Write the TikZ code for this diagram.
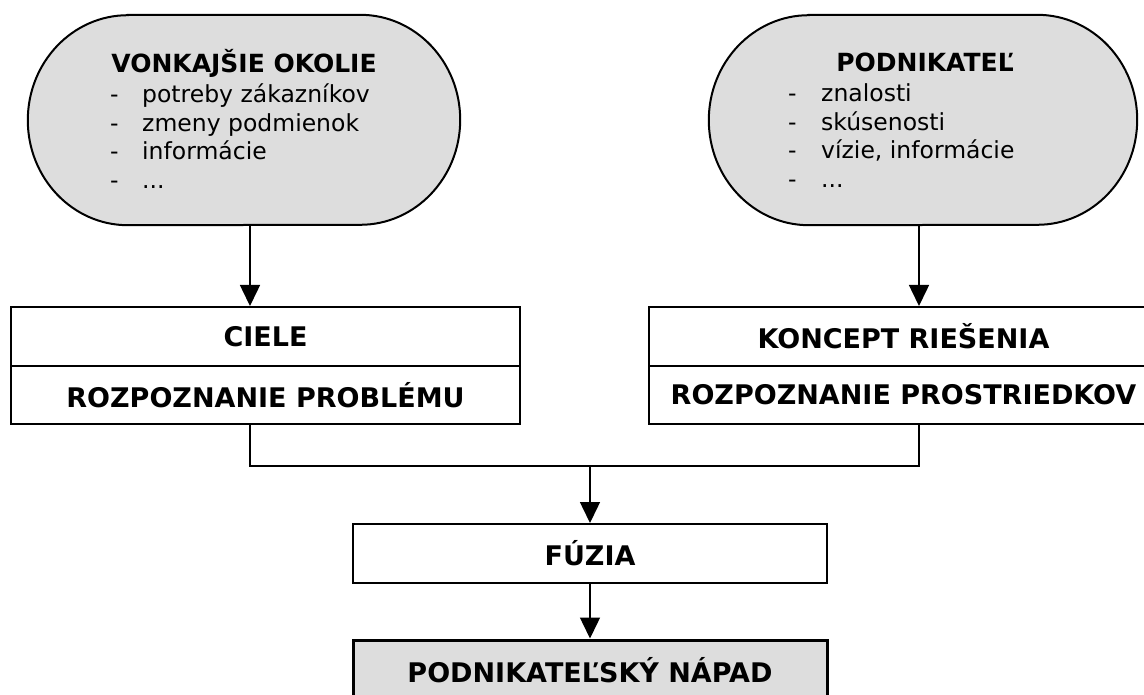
\documentclass[tikz,border=0pt]{standalone}
\usepackage{fontspec}
\setmainfont{DejaVu Sans}
\usetikzlibrary{arrows.meta,backgrounds}
\definecolor{shade}{RGB}{221,221,221}
\begin{document}
\begin{tikzpicture}[x=1pt,y=-1pt,
  line/.style={line width=1.5pt},
  arr/.style={line, -{Triangle[length=21pt,width=20pt]}},
  box/.style={draw, line width=2pt, inner sep=0pt, minimum height=59pt,
    font=\bfseries\fontsize{27}{30}\selectfont},
  pill/.style={inner sep=0pt, minimum height=210pt},
  pilledge/.style={draw, fill=shade, line width=2pt},
  pilltitle/.style={anchor=base, inner sep=0pt, font=\bfseries\fontsize{25}{28}\selectfont},
  pilllist/.style={anchor=base west, inner sep=0pt, align=left}
]
\useasboundingbox (0,0) rectangle (1144,695);
\clip (0,0) rectangle (1144,695);

% the two rounded sources
\node[pill, minimum width=432pt] (env) at (244,120) {};
\node[pill, minimum width=428pt] (ent) at (923,120) {};
\begin{scope}[on background layer]
  \foreach \n in {env,ent}{
    \draw[pilledge] ([xshift=100pt]\n.north west) -- ([xshift=-100pt]\n.north east)
      arc[start angle=-90, end angle=90, x radius=100, y radius=105]
      -- ([xshift=100pt]\n.south west)
      arc[start angle=90, end angle=270, x radius=100, y radius=105] -- cycle;
  }
\end{scope}

\node[pilltitle] (envT) at (244,73) {VONKAJŠIE OKOLIE};
\node[pilllist] (envL) at (110,103) {\fontsize{23.5}{28.5}\selectfont
  \begin{tabular}[t]{@{}p{32pt}@{}l@{}}
  - & potreby zákazníkov\\
  - & zmeny podmienok\\
  - & informácie\\
  - & ...
  \end{tabular}};

\node[pilltitle] (entT) at (925,72) {PODNIKATEĽ};
\node[pilllist] (entL) at (788,102) {\fontsize{23.5}{28.5}\selectfont
  \begin{tabular}[t]{@{}p{33pt}@{}l@{}}
  - & znalosti\\
  - & skúsenosti\\
  - & vízie, informácie\\
  - & ...
  \end{tabular}};

% goal and solution boxes
\node[box, minimum width=509pt] (ciele) at (265.5,336.5) {CIELE};
\node[box, minimum width=509pt, minimum height=58pt] (rozp1) at (265.5,395) {ROZPOZNANIE PROBLÉMU};
\node[box, minimum width=509pt] (koncept) at (903.5,336.5) {KONCEPT RIEŠENIA};
\node[box, minimum width=509pt, minimum height=58pt] (rozp2) at (903.5,395) {ROZPOZNANIE PROSTRIEDKOV};

% fusion and result
\node[box, minimum width=474pt] (fuzia) at (590,553.5) {FÚZIA};
\node[box, minimum width=474pt, minimum height=60pt, fill=shade, line width=3pt] (napad) at (590,670) {PODNIKATEĽSKÝ NÁPAD};

% connectors
\coordinate (lx) at (250,0);
\coordinate (rx) at (919,0);
\coordinate (join) at (590,466);
\draw[arr] (env.south -| lx) -- (ciele.north -| lx);
\draw[arr] (ent.south -| rx) -- (koncept.north -| rx);
\draw[line] (rozp1.south -| lx) |- (join -| rx) -- (rozp2.south -| rx);
\draw[arr] (join) -- (fuzia.north);
\draw[arr] (fuzia.south) -- (napad.north);
\end{tikzpicture}
\end{document}
